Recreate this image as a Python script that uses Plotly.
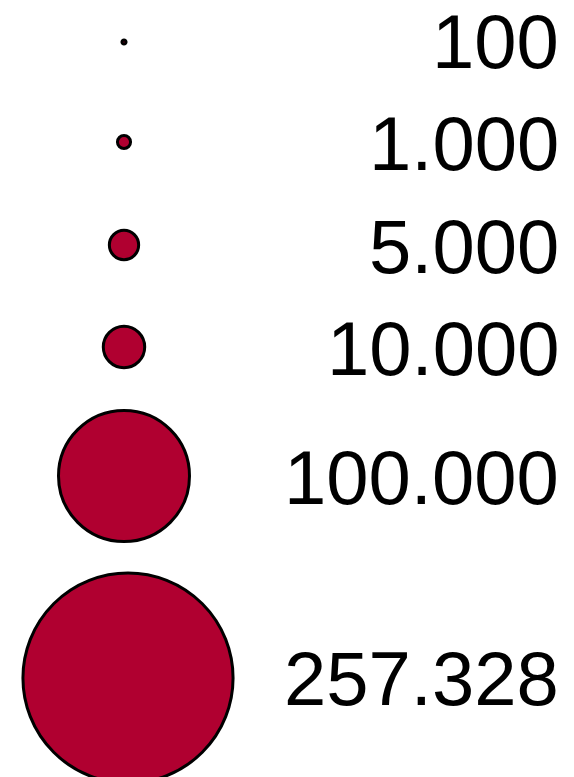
import math
import plotly.graph_objects as go

# Data
values = [100, 1000, 5000, 10000, 100000, 257328]
labels = ["100", "1.000", "5.000", "10.000", "100.000", "257.328"]

# Layout (pixel-space positions of each legend row)
row_y = [42, 142, 245, 347, 476, 678]
circle_x = [124, 124, 124, 124, 124, 128]
label_y = [41, 143, 246, 348, 477, 678]
label_right_x = 561
ref_value = 100000
ref_diameter = 131

sizes = [ref_diameter * math.sqrt(v / ref_value) for v in values]

fig = go.Figure()
fig.add_trace(go.Scatter(
    x=circle_x, y=row_y, mode="markers",
    marker=dict(size=sizes, sizemode="diameter", color="rgb(176,0,48)",
                opacity=1, line=dict(color="black", width=3)),
    hoverinfo="skip", showlegend=False,
))

for lab, y in zip(labels, label_y):
    fig.add_annotation(x=label_right_x, y=y, text=lab, showarrow=False,
                       xanchor="right", yanchor="middle",
                       font=dict(family="Liberation Sans, Arial", size=76, color="black"))

fig.update_layout(
    width=574, height=777, margin=dict(l=0, r=0, t=0, b=0),
    paper_bgcolor="white", plot_bgcolor="white",
    xaxis=dict(range=[0, 574], visible=False, fixedrange=True),
    yaxis=dict(range=[777, 0], visible=False, fixedrange=True),
)
fig.write_html("out.html", config={"displayModeBar": False},
               post_script="document.body.style.margin='0';document.body.style.padding='0';")
